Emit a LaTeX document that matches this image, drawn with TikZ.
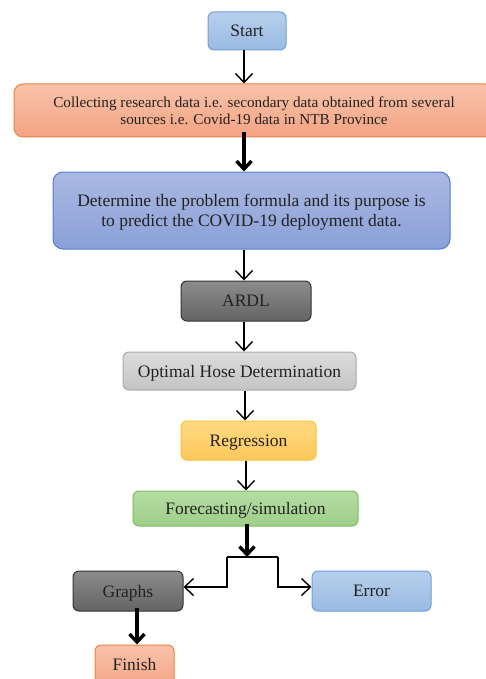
\documentclass[tikz,border=0pt]{standalone}
\usepackage{fontspec}
\setmainfont{Liberation Serif}
\usetikzlibrary{arrows.meta,shadings}
\definecolor{txt}{HTML}{222222}
\definecolor{blueT}{RGB}{183,207,236}\definecolor{blueB}{RGB}{153,186,226}\definecolor{blueD}{RGB}{111,158,216}
\definecolor{orT}{RGB}{248,195,170}\definecolor{orB}{RGB}{244,163,131}\definecolor{orD}{RGB}{238,128,64}
\definecolor{puT}{RGB}{170,185,226}\definecolor{puB}{RGB}{138,160,216}\definecolor{puD}{RGB}{80,125,210}
\definecolor{dkT}{RGB}{140,140,140}\definecolor{dkB}{RGB}{100,100,100}\definecolor{dkD}{RGB}{50,50,50}
\definecolor{lgT}{RGB}{220,220,220}\definecolor{lgB}{RGB}{196,196,196}\definecolor{lgD}{RGB}{170,170,170}
\definecolor{yeT}{RGB}{255,218,130}\definecolor{yeB}{RGB}{252,200,90}\definecolor{yeD}{RGB}{250,192,50}
\definecolor{grT}{RGB}{183,220,165}\definecolor{grB}{RGB}{158,206,136}\definecolor{grD}{RGB}{124,190,92}
\tikzset{
  box/.style={draw, rounded corners=6pt, line width=1pt, align=center, text=txt,
    font=\fontsize{17.5}{20.5}\selectfont, inner sep=0pt, text depth=0pt},
  bluebox/.style={box, top color=blueT, bottom color=blueB, draw=blueD},
  orangebox/.style={box, top color=orT, bottom color=orB, draw=orD},
  purplebox/.style={box, rounded corners=10pt, top color=puT, bottom color=puB, draw=puD},
  darkbox/.style={box, top color=dkT, bottom color=dkB, draw=dkD},
  lightgraybox/.style={box, top color=lgT, bottom color=lgB, draw=lgD},
  yellowbox/.style={box, top color=yeT, bottom color=yeB, draw=yeD},
  greenbox/.style={box, top color=grT, bottom color=grB, draw=grD},
  arr/.style={-{Straight Barb[length=9pt,width=17pt]}, line width=1.4pt, black},
  thickarr/.style={-{Straight Barb[length=8pt,width=15pt]}, line width=3.4pt, black},
  plain/.style={line width=1.6pt, black},
}
\begin{document}
\begin{tikzpicture}[x=1pt,y=-1pt]
\useasboundingbox (0,0) rectangle (486,679);
\clip (0,0) rectangle (486,679);
\node[bluebox, minimum width=78pt, minimum height=38pt] (start) at (247,31) {Start};
\node[orangebox, rounded corners=9pt, minimum width=480pt, minimum height=53pt,
  font=\fontsize{15.2}{17.5}\selectfont] (collect) at (254,110.5)
  {Collecting research data i.e. secondary data obtained from several\\sources i.e. Covid-19 data in NTB Province};
\node[purplebox, minimum width=397pt, minimum height=77pt] (determ) at (251.5,210.5)
  {Determine the problem formula and its purpose is\\to predict the COVID-19 deployment data.};
\node[darkbox, minimum width=130pt, minimum height=40pt] (ardl) at (246,301) {ARDL};
\node[lightgraybox, minimum width=233pt, minimum height=38pt] (opt) at (239.5,371) {Optimal Hose Determination};
\node[yellowbox, minimum width=135pt, minimum height=39pt] (reg) at (248.5,440.5) {Regression};
\node[greenbox, minimum width=225pt, minimum height=35pt] (fore) at (245.5,508.5) {Forecasting/simulation};
\node[darkbox, minimum width=110pt, minimum height=40pt] (graphs) at (128,591) {Graphs};
\node[bluebox, minimum width=119pt, minimum height=40pt] (error) at (371.5,591) {Error};
\node[orangebox, minimum width=79pt, minimum height=44pt] (finish) at (134.5,667) {\raisebox{5pt}{Finish}};

\coordinate (xa) at (244,0);
\coordinate (xb) at (245,0);
\coordinate (xc) at (246,0);
\coordinate (xd) at (247,0);
\coordinate (xg) at (137,0);
\coordinate (j) at (247,557);
\coordinate (jl) at (227,557);
\coordinate (jr) at (278,557);

\draw[arr] (start.south -| xa) -- (collect.north -| xa);
\draw[thickarr] ([yshift=5pt]collect.south -| xa) -- (determ.north -| xa);
\draw[arr] (determ.south -| xa) -- (ardl.north -| xa);
\draw[arr] (ardl.south -| xa) -- (opt.north -| xa);
\draw[arr] (opt.south -| xb) -- (reg.north -| xb);
\draw[arr] (reg.south -| xc) -- (fore.north -| xc);
\draw[thickarr] ([yshift=3pt]fore.south -| xd) -- (j);
\draw[plain] (jl) -- (jr);
\draw[arr] (jl) |- ([yshift=4pt]graphs.east);
\draw[arr] (jr) |- ([yshift=4pt]error.west);
\draw[thickarr] ([yshift=4pt]graphs.south -| xg) -- (finish.north -| xg);
\end{tikzpicture}
\end{document}
